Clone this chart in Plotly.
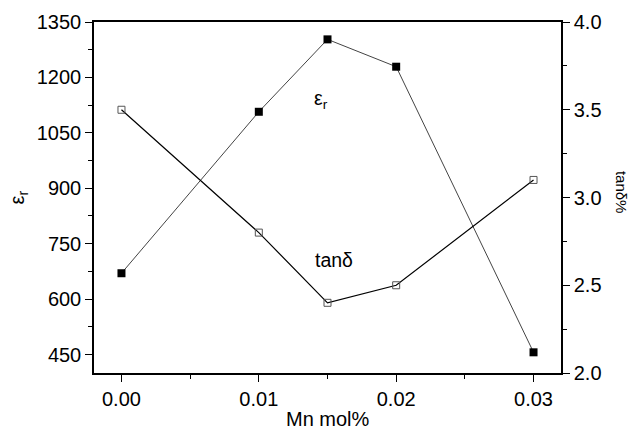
import plotly.graph_objects as go

mn = [0.0, 0.01, 0.015, 0.02, 0.03]
eps_r = [670, 1107, 1303, 1229, 456]
tan_d = [3.50, 2.80, 2.40, 2.50, 3.10]

x_ticks = [0.0, 0.01, 0.02, 0.03]
x_labels = ["0.00", "0.01", "0.02", "0.03"]
y1_ticks = [450, 600, 750, 900, 1050, 1200, 1350]
y2_ticks = [2.0, 2.5, 3.0, 3.5, 4.0]
y2_labels = ["2.0", "2.5", "3.0", "3.5", "4.0"]

FONT = "Liberation Sans, Arial, sans-serif"

fig = go.Figure()
fig.add_trace(go.Scatter(
    x=mn, y=eps_r, mode="lines+markers", yaxis="y",
    line=dict(color="#444444", width=1),
    marker=dict(symbol="square", size=8, color="black", line=dict(width=0)),
    showlegend=False))
fig.add_trace(go.Scatter(
    x=mn, y=tan_d, mode="lines+markers", yaxis="y2",
    line=dict(color="black", width=1.2),
    marker=dict(symbol="square-open", size=7, color="#555555", line=dict(width=1)),
    showlegend=False))

axis_common = dict(
    showgrid=False, zeroline=False, showline=True, linecolor="black", linewidth=1.5,
    ticks="outside", ticklen=7, tickwidth=1.3, tickcolor="black", automargin=False,
    tickfont=dict(family=FONT, size=20, color="black"),
)

fig.update_layout(
    width=632, height=438,
    margin=dict(l=94, r=71, t=22, b=65),
    paper_bgcolor="white", plot_bgcolor="white",
    xaxis=dict(range=[-0.002, 0.032], tickvals=x_ticks, ticktext=x_labels,
               mirror=True,
               minor=dict(tickvals=[0.005, 0.015, 0.025], ticks="outside", ticklen=4,
                          tickcolor="black", tickwidth=1.3),
               **axis_common),
    yaxis=dict(range=[400, 1350], tickvals=y1_ticks,
               minor=dict(tickvals=[525, 675, 825, 975, 1125, 1275], ticks="outside",
                          ticklen=4, tickcolor="black", tickwidth=1.3),
               **axis_common),
    yaxis2=dict(range=[2.0, 4.0], tickvals=y2_ticks, ticktext=y2_labels,
                overlaying="y", side="right",
                minor=dict(tickvals=[2.25, 2.75, 3.25, 3.75], ticks="outside",
                           ticklen=4, tickcolor="black", tickwidth=1.3),
                **axis_common),
)

ann_font = dict(family=FONT, size=19.5, color="black")
fig.add_annotation(text="Mn mol%", xref="paper", yref="paper", x=0.5, y=0,
                   xanchor="center", yanchor="middle", yshift=-46, showarrow=False,
                   font=dict(family=FONT, size=20, color="black"))
fig.add_annotation(text="ε<sub>r</sub>", xref="paper", yref="paper", x=0, y=0.5,
                   xanchor="center", yanchor="middle", xshift=-76, textangle=-90,
                   showarrow=False, font=dict(family=FONT, size=20, color="black"))
fig.add_annotation(text="tanδ%", xref="paper", yref="paper", x=1, y=0.516,
                   xanchor="center", yanchor="middle", xshift=60, textangle=90,
                   showarrow=False, font=dict(family=FONT, size=15, color="black"))
fig.add_annotation(text="ε<sub>r</sub>", xref="x", yref="y", x=0.0145, y=1140,
                   xanchor="center", yanchor="middle", showarrow=False, font=ann_font)
fig.add_annotation(text="tanδ", xref="x", yref="y2", x=0.0155, y=2.644,
                   xanchor="center", yanchor="middle", showarrow=False, font=ann_font)

fig.write_html("out.html", config={"displayModeBar": False},
               post_script="document.body.style.margin='0';")
